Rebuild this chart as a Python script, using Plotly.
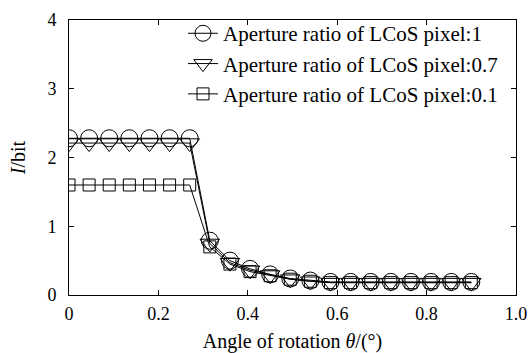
import plotly.graph_objects as go

angle = [0, 0.045, 0.09, 0.135, 0.18, 0.225, 0.27, 0.315, 0.36, 0.405, 0.45,
         0.495, 0.54, 0.585, 0.63, 0.675, 0.72, 0.765, 0.81, 0.855, 0.9]
ratio_1 = [2.28, 2.28, 2.28, 2.28, 2.28, 2.28, 2.28, 0.79, 0.50, 0.38, 0.30,
           0.24, 0.21, 0.19, 0.19, 0.19, 0.19, 0.19, 0.19, 0.19, 0.19]
ratio_07 = [2.21, 2.21, 2.21, 2.21, 2.21, 2.21, 2.21, 0.75, 0.47, 0.36, 0.29,
            0.23, 0.20, 0.18, 0.18, 0.18, 0.18, 0.18, 0.18, 0.18, 0.18]
ratio_01 = [1.60, 1.60, 1.60, 1.60, 1.60, 1.60, 1.60, 0.70, 0.45, 0.34, 0.28,
            0.23, 0.20, 0.18, 0.18, 0.18, 0.18, 0.18, 0.18, 0.18, 0.18]
names = ["Aperture ratio of LCoS pixel:1",
         "Aperture ratio of LCoS pixel:0.7",
         "Aperture ratio of LCoS pixel:0.1"]
x_ticks = [0, 0.2, 0.4, 0.6, 0.8, 1.0]
x_tick_text = ["0", "0.2", "0.4", "0.6", "0.8", "1.0"]

FONT = "Liberation Serif"

fig = go.Figure()
specs = [(ratio_1, "circle-open", 17), (ratio_07, "triangle-down-open", 17),
         (ratio_01, "square-open", 12)]
for (vals, sym, sz), nm in zip(specs, names):
    fig.add_trace(go.Scatter(
        x=angle, y=vals, name=nm, mode="lines+markers",
        line=dict(color="black", width=1),
        marker=dict(symbol=sym, size=sz, color="black", line=dict(width=1, color="black")),
    ))

axis_common = dict(showline=True, linecolor="black", linewidth=1, mirror="ticks",
                   ticks="inside", ticklen=5, tickcolor="black", showgrid=False,
                   zeroline=False, automargin=False,
                   tickfont=dict(family=FONT, size=18, color="black"))
fig.update_xaxes(range=[0, 1.0], tickvals=x_ticks, ticktext=x_tick_text,
                 ticklabelstandoff=2,
                 title=dict(text="Angle of rotation <i>θ</i>/(°)", standoff=12,
                            font=dict(family=FONT, size=20, color="black")),
                 **axis_common)
fig.update_yaxes(range=[0, 4], dtick=1, ticklabelstandoff=8,
                 title=dict(text="<i>I</i>/bit", standoff=16,
                            font=dict(family=FONT, size=20, color="black")),
                 **axis_common)

fig.update_layout(
    width=528, height=353,
    margin=dict(l=69, r=12, t=20, b=58),
    plot_bgcolor="white", paper_bgcolor="white",
    font=dict(family=FONT, color="black"),
    legend=dict(x=0.255, y=1.025, xanchor="left", yanchor="top",
                bgcolor="rgba(0,0,0,0)", borderwidth=0,
                font=dict(family=FONT, size=21, color="black"),
                tracegroupgap=0),
)
fig.write_html("out.html")
